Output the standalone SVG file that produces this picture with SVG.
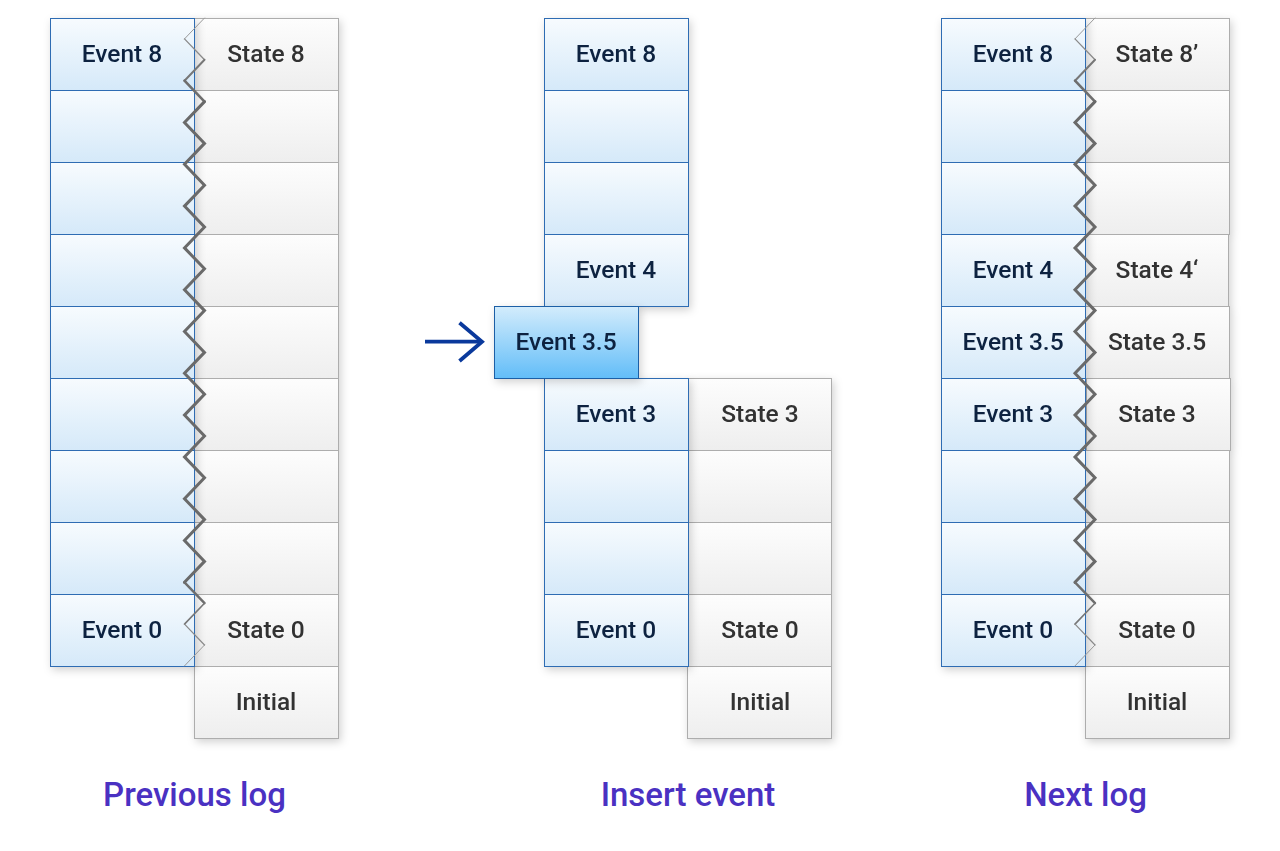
<svg xmlns="http://www.w3.org/2000/svg" xmlns:xlink="http://www.w3.org/1999/xlink" width="1280" height="851" viewBox="0 0 1280 851">
<style>
.ev{fill:url(#gEv);stroke:#2d6cb3;stroke-width:1}
.st{fill:url(#gSt);stroke:#adadad;stroke-width:1}
.hi{fill:url(#gHi);stroke:#1f5fa6;stroke-width:1}
.te{font-family:Roboto,"Liberation Sans",sans-serif;font-size:24.5px;font-weight:500;fill:#0c2240;text-anchor:middle}
.ts{font-family:Roboto,"Liberation Sans",sans-serif;font-size:24.5px;font-weight:500;fill:#333333;text-anchor:middle}
.lbl{font-family:Roboto,"Liberation Sans",sans-serif;font-size:33px;font-weight:500;fill:#4a31c2;text-anchor:middle}
.zz{fill:none;stroke-linecap:round;stroke-linejoin:miter}
</style>
<defs>
<linearGradient id="gEv" x1="0" y1="0" x2="0" y2="1"><stop offset="0" stop-color="#f7fbfe"/><stop offset="1" stop-color="#d5e9f9"/></linearGradient>
<linearGradient id="gSt" x1="0" y1="0" x2="0" y2="1"><stop offset="0" stop-color="#fdfdfd"/><stop offset="1" stop-color="#eeeeee"/></linearGradient>
<linearGradient id="gHi" x1="0" y1="0" x2="0" y2="1"><stop offset="0" stop-color="#d3ecfc"/><stop offset="1" stop-color="#62bdf8"/></linearGradient>
<filter id="sh" x="-20%" y="-20%" width="140%" height="140%"><feDropShadow dx="2" dy="3" stdDeviation="4" flood-color="#000" flood-opacity="0.18"/></filter>
<g id="zig" class="zz">
<line x1="204.5" y1="18" x2="184.5" y2="38.9" stroke="#9a9a9a" stroke-width="1"/>
<line x1="184.5" y1="38.9" x2="204.5" y2="59.8" stroke="#8a8a8a" stroke-width="1.3"/>
<line x1="204.5" y1="59.8" x2="184.5" y2="80.7" stroke="#777" stroke-width="2"/>
<line x1="184.5" y1="80.7" x2="204.5" y2="101.6" stroke="#6e6e6e" stroke-width="2.6"/>
<polyline stroke="#6a6a6a" stroke-width="3" points="204.5,101.6 184.5,122.5 204.5,143.4 184.5,164.3 204.5,185.2 184.5,206.1 204.5,227 184.5,247.9 204.5,268.8 184.5,289.7 204.5,310.6 184.5,331.5 204.5,352.4 184.5,373.3 204.5,394.2 184.5,415.1 204.5,436 184.5,456.9 204.5,477.8 184.5,498.7 204.5,519.6 184.5,540.5 204.5,561.4 184.5,582.3"/>
<line x1="184.5" y1="582.3" x2="204.5" y2="603.2" stroke="#6e6e6e" stroke-width="2.4"/>
<line x1="204.5" y1="603.2" x2="184.5" y2="624.1" stroke="#777" stroke-width="1.6"/>
<line x1="184.5" y1="624.1" x2="204.5" y2="645" stroke="#8a8a8a" stroke-width="1.2"/>
<line x1="204.5" y1="645" x2="184.5" y2="665.9" stroke="#9a9a9a" stroke-width="1"/>
</g>
</defs>
<rect width="1280" height="851" fill="#ffffff"/>

<!-- Previous log -->
<g id="prev-states" filter="url(#sh)">
<g id="p-s8"><rect class="st" x="194.5" y="18.5" width="144" height="72"/><text class="ts" x="266" y="62">State 8</text></g>
<g id="p-s7"><rect class="st" x="194.5" y="90.5" width="144" height="72"/></g>
<g id="p-s6"><rect class="st" x="194.5" y="162.5" width="144" height="72"/></g>
<g id="p-s5"><rect class="st" x="194.5" y="234.5" width="144" height="72"/></g>
<g id="p-s4"><rect class="st" x="194.5" y="306.5" width="144" height="72"/></g>
<g id="p-s3"><rect class="st" x="194.5" y="378.5" width="144" height="72"/></g>
<g id="p-s2"><rect class="st" x="194.5" y="450.5" width="144" height="72"/></g>
<g id="p-s1"><rect class="st" x="194.5" y="522.5" width="144" height="72"/></g>
<g id="p-s0"><rect class="st" x="194.5" y="594.5" width="144" height="72"/><text class="ts" x="266" y="638">State 0</text></g>
<g id="p-init"><rect class="st" x="194.5" y="666.5" width="144" height="72"/><text class="ts" x="266" y="710">Initial</text></g>
</g>
<g id="prev-events" filter="url(#sh)">
<g id="p-e8"><rect class="ev" x="50.5" y="18.5" width="144" height="72"/><text class="te" x="122" y="62">Event 8</text></g>
<g id="p-e7"><rect class="ev" x="50.5" y="90.5" width="144" height="72"/></g>
<g id="p-e6"><rect class="ev" x="50.5" y="162.5" width="144" height="72"/></g>
<g id="p-e5"><rect class="ev" x="50.5" y="234.5" width="144" height="72"/></g>
<g id="p-e4"><rect class="ev" x="50.5" y="306.5" width="144" height="72"/></g>
<g id="p-e3"><rect class="ev" x="50.5" y="378.5" width="144" height="72"/></g>
<g id="p-e2"><rect class="ev" x="50.5" y="450.5" width="144" height="72"/></g>
<g id="p-e1"><rect class="ev" x="50.5" y="522.5" width="144" height="72"/></g>
<g id="p-e0"><rect class="ev" x="50.5" y="594.5" width="144" height="72"/><text class="te" x="122" y="638">Event 0</text></g>
</g>

<!-- Insert event -->
<g id="mid-states" filter="url(#sh)">
<g id="m-s3"><rect class="st" x="688.5" y="378.5" width="143" height="72"/><text class="ts" x="760" y="422">State 3</text></g>
<g id="m-s2"><rect class="st" x="688.5" y="450.5" width="143" height="72"/></g>
<g id="m-s1"><rect class="st" x="688.5" y="522.5" width="143" height="72"/></g>
<g id="m-s0"><rect class="st" x="688.5" y="594.5" width="143" height="72"/><text class="ts" x="760" y="638">State 0</text></g>
<g id="m-init"><rect class="st" x="687.5" y="666.5" width="144" height="72"/><text class="ts" x="760" y="710">Initial</text></g>
</g>
<g id="mid-events" filter="url(#sh)">
<g id="m-e8"><rect class="ev" x="544.5" y="18.5" width="144" height="72"/><text class="te" x="616" y="62">Event 8</text></g>
<g id="m-e7"><rect class="ev" x="544.5" y="90.5" width="144" height="72"/></g>
<g id="m-e6"><rect class="ev" x="544.5" y="162.5" width="144" height="72"/></g>
<g id="m-e4"><rect class="ev" x="544.5" y="234.5" width="144" height="72"/><text class="te" x="616" y="278">Event 4</text></g>
<g id="m-e3"><rect class="ev" x="544.5" y="378.5" width="144" height="72"/><text class="te" x="616" y="422">Event 3</text></g>
<g id="m-e2"><rect class="ev" x="544.5" y="450.5" width="144" height="72"/></g>
<g id="m-e1"><rect class="ev" x="544.5" y="522.5" width="144" height="72"/></g>
<g id="m-e0"><rect class="ev" x="544.5" y="594.5" width="144" height="72"/><text class="te" x="616" y="638">Event 0</text></g>
</g>
<g id="m-e35" filter="url(#sh)"><rect class="hi" x="494.5" y="306.5" width="144" height="72"/><text class="te" x="566" y="350">Event 3.5</text></g>

<!-- Next log -->
<g id="next-states" filter="url(#sh)">
<g id="n-s8"><rect class="st" x="1085.5" y="18.5" width="144" height="72"/><text class="ts" x="1157" y="62">State 8’</text></g>
<g id="n-s7"><rect class="st" x="1085.5" y="90.5" width="144" height="72"/></g>
<g id="n-s6"><rect class="st" x="1085.5" y="162.5" width="144" height="72"/></g>
<g id="n-s4"><rect class="st" x="1085.5" y="234.5" width="143" height="72"/><text class="ts" x="1157" y="278">State 4‘</text></g>
<g id="n-s35"><rect class="st" x="1085.5" y="306.5" width="144" height="72"/><text class="ts" x="1157" y="350">State 3.5</text></g>
<g id="n-s3"><rect class="st" x="1086.5" y="378.5" width="144" height="72"/><text class="ts" x="1157" y="422">State 3</text></g>
<g id="n-s2"><rect class="st" x="1085.5" y="450.5" width="144" height="72"/></g>
<g id="n-s1"><rect class="st" x="1085.5" y="522.5" width="144" height="72"/></g>
<g id="n-s0"><rect class="st" x="1085.5" y="594.5" width="144" height="72"/><text class="ts" x="1157" y="638">State 0</text></g>
<g id="n-init"><rect class="st" x="1085.5" y="666.5" width="144" height="72"/><text class="ts" x="1157" y="710">Initial</text></g>
</g>
<g id="next-events" filter="url(#sh)">
<g id="n-e8"><rect class="ev" x="941.5" y="18.5" width="144" height="72"/><text class="te" x="1013" y="62">Event 8</text></g>
<g id="n-e7"><rect class="ev" x="941.5" y="90.5" width="144" height="72"/></g>
<g id="n-e6"><rect class="ev" x="941.5" y="162.5" width="144" height="72"/></g>
<g id="n-e4"><rect class="ev" x="941.5" y="234.5" width="144" height="72"/><text class="te" x="1013" y="278">Event 4</text></g>
<g id="n-e35"><rect class="ev" x="941.5" y="306.5" width="144" height="72"/><text class="te" x="1013" y="350">Event 3.5</text></g>
<g id="n-e3"><rect class="ev" x="941.5" y="378.5" width="144" height="72"/><text class="te" x="1013" y="422">Event 3</text></g>
<g id="n-e2"><rect class="ev" x="941.5" y="450.5" width="144" height="72"/></g>
<g id="n-e1"><rect class="ev" x="941.5" y="522.5" width="144" height="72"/></g>
<g id="n-e0"><rect class="ev" x="941.5" y="594.5" width="144" height="72"/><text class="te" x="1013" y="638">Event 0</text></g>
</g>

<!-- connectors -->
<g id="connectors">
<use id="zigzag-prev" xlink:href="#zig" href="#zig"/>
<use id="zigzag-next" xlink:href="#zig" href="#zig" transform="translate(890.5,0)"/>
<g id="insert-arrow" fill="none" stroke="#0a399c" stroke-width="3.8">
<path d="M425 341.7 H481"/>
<path d="M459.5 322.7 L482 341.7 L459.5 361"/>
</g>
</g>

<!-- labels -->
<g id="labels">
<text class="lbl" x="194.5" y="805.5">Previous log</text>
<text class="lbl" x="688" y="805.5">Insert event</text>
<text class="lbl" x="1085.5" y="805.5">Next log</text>
</g>
</svg>
